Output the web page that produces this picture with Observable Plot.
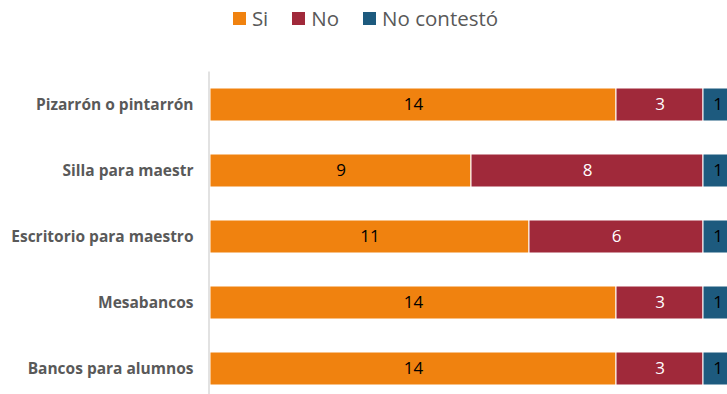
<!DOCTYPE html>
<html><head><meta charset="utf-8">
<script src="https://cdn.jsdelivr.net/npm/d3@7"></script>
<script src="https://cdn.jsdelivr.net/npm/@observablehq/plot@0.6"></script>
<style>
body{margin:0;background:#fff;font-family:"Open Sans","Liberation Sans",sans-serif;}
#wrap{position:relative;width:727px;height:394px;overflow:hidden;}
#legend{position:absolute;top:4px;left:0;width:727px;display:flex;justify-content:center;gap:24px;font-size:20.5px;color:#595959;z-index:2;padding-left:4px;box-sizing:border-box}
#legend span{display:flex;align-items:center;}
#legend i{display:inline-block;width:13px;height:13px;margin-right:6px;}
</style></head>
<body><div id="wrap"><div id="legend"></div><div id="chart"></div></div>
<script>
const categories = ["Pizarrón o pintarrón","Silla para maestr","Escritorio para maestro","Mesabancos","Bancos para alumnos"];
const series = ["Si","No","No contestó"];
const si = [14, 9, 11, 14, 14];
const no = [3, 8, 6, 3, 3];
const noContesto = [1, 1, 1, 1, 1];
const colors = ["#F0820F","#A0293A","#1D5A7E"];
const labelColors = ["#000","#fff","#000"];

const vals = [si, no, noContesto];
const data = [];
categories.forEach((c,i)=>series.forEach((s,j)=>data.push({cat:c, serie:s, value:vals[j][i]})));

const leg = document.getElementById("legend");
series.forEach((s,j)=>{const sp=document.createElement("span");sp.innerHTML=`<i style="background:${colors[j]}"></i>${s}`;leg.appendChild(sp);});

const plot = Plot.plot({
  width: 727, height: 394,
  marginLeft: 210, marginRight: -5, marginTop: 71.5, marginBottom: -7.5,
  style:{fontFamily:"'Open Sans','Liberation Sans',sans-serif", background:"transparent"},
  x:{domain:[0,18], axis:null},
  y:{domain:categories, paddingInner:0.5, paddingOuter:0.25, label:null},
  color:{domain:series, range:colors},
  marks:[
    Plot.barX(data, Plot.stackX({x:"value", y:"cat", fill:"serie", order:series, stroke:"#fff", strokeWidth:1})),
    Plot.text(data, Plot.stackX({x:"value", y:"cat", z:"serie", order:series, text:d=>String(d.value), fill:d=>labelColors[series.indexOf(d.serie)], fontSize:17})),
    Plot.ruleX([0], {stroke:"#d9d9d9", strokeWidth:1.5, dx:-1.5}),
    Plot.axisY({tickSize:0, tickPadding:17, fontSize:15.5, fontWeight:"bold", fill:"#595959", label:null})
  ]
});
document.getElementById("chart").appendChild(plot);
</script></body></html>
